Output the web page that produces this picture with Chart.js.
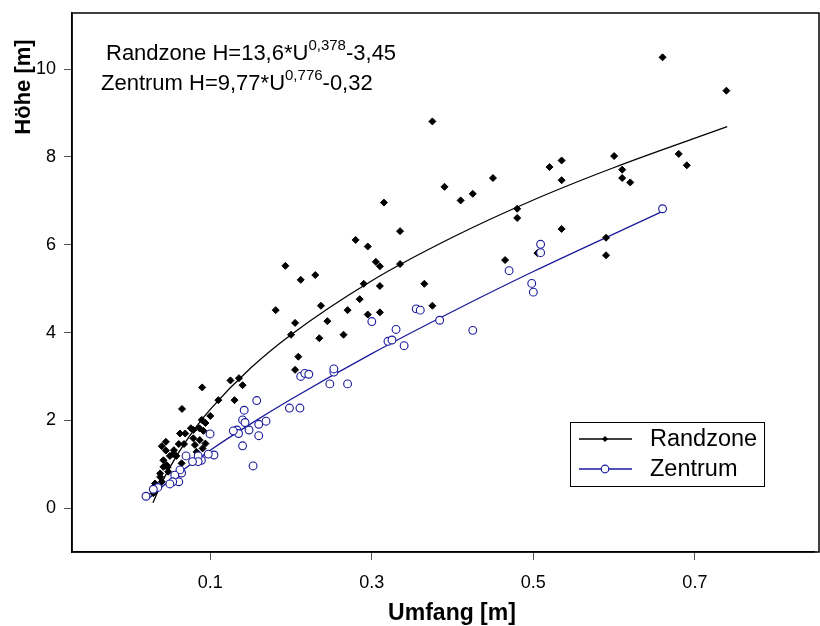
<!DOCTYPE html>
<html lang="de">
<head>
<meta charset="UTF-8" />
<title>Höhe über Umfang</title>
<script src="https://cdn.jsdelivr.net/npm/chart.js"></script>
<style>
  * { margin: 0; padding: 0; }
  html, body { background: #fff; overflow: hidden; }
  canvas { display: block; }
</style>
</head>
<body>
<canvas id="chart" width="820" height="626"></canvas>
<script>
// Randzone - Messpunkte (Umfang [m], Höhe [m])
const randU = [0.660, 0.739, 0.375, 0.390, 0.410, 0.425, 0.450, 0.480, 0.480, 0.520,
  0.535, 0.535, 0.600, 0.610, 0.610, 0.620, 0.680, 0.690, 0.535, 0.465,
  0.505, 0.590, 0.590, 0.375, 0.315, 0.335, 0.280, 0.295, 0.305, 0.310,
  0.335, 0.193, 0.212, 0.230, 0.290, 0.310, 0.365, 0.181, 0.237, 0.285,
  0.205, 0.245, 0.270, 0.295, 0.310, 0.200, 0.235, 0.265, 0.209, 0.205,
  0.090, 0.110, 0.125, 0.1355, 0.140, 0.130, 0.065, 0.100, 0.040, 0.045,
  0.050, 0.058, 0.061, 0.0675, 0.069, 0.076, 0.079, 0.081, 0.083, 0.0865,
  0.0895, 0.094, 0.0915, 0.094, 0.0905, 0.087, 0.0645, 0.042, 0.048, 0.038,
  0.040, 0.0315, 0.046, 0.054, 0.0295, 0.0625, 0.079, 0.045, 0.055, 0.042,
  0.047, 0.038, 0.0295];
const randH = [10.27, 9.51, 8.81, 7.32, 7.01, 7.16, 7.52, 6.82, 6.61, 7.77,
  7.92, 7.47, 8.02, 7.71, 7.52, 7.42, 8.07, 7.81, 6.36, 5.65,
  5.81, 6.16, 5.76, 4.61, 6.96, 6.31, 6.11, 5.96, 5.61, 5.51,
  5.56, 5.52, 5.20, 5.31, 5.11, 5.06, 5.11, 4.51, 4.61, 4.76,
  4.22, 4.26, 4.51, 4.41, 4.46, 3.95, 3.87, 3.95, 3.45, 3.15,
  2.75, 2.46, 2.91, 2.96, 2.80, 2.46, 2.26, 2.10, 1.41, 1.31,
  1.19, 1.19, 1.46, 1.46, 1.70, 1.82, 1.59, 1.44, 1.28, 1.82,
  2.01, 1.94, 1.76, 1.47, 1.36, 1.55, 1.02, 0.94, 0.83, 0.79,
  0.60, 0.56, 0.98, 1.23, 0.34, 1.70, 1.78, 1.51, 1.32, 1.09,
  0.93, 0.71, 0.37];

// Zentrum - Messpunkte
const zentU = [0.660, 0.509, 0.509, 0.470, 0.498, 0.500, 0.384, 0.425, 0.300, 0.355,
  0.360, 0.330, 0.320, 0.325, 0.340, 0.212, 0.217, 0.222, 0.248, 0.270,
  0.253, 0.253, 0.198, 0.211, 0.169, 0.1575, 0.142, 0.140, 0.143, 0.133,
  0.135, 0.148, 0.140, 0.153, 0.1285, 0.160, 0.160, 0.0997, 0.1046, 0.0975,
  0.089, 0.085, 0.085, 0.078, 0.070, 0.0645, 0.0625, 0.056, 0.061, 0.0535,
  0.050, 0.035, 0.0295, 0.0204];
const zentH = [6.82, 6.01, 5.82, 5.41, 5.12, 4.92, 4.28, 4.05, 4.25, 4.54,
  4.51, 4.07, 3.80, 3.83, 3.70, 3.00, 3.07, 3.05, 2.83, 2.83,
  3.10, 3.17, 2.28, 2.28, 1.98, 2.45, 2.23, 2.01, 1.95, 1.78,
  1.70, 1.78, 1.42, 0.96, 1.76, 1.91, 1.65, 1.69, 1.21, 1.23,
  1.09, 1.19, 1.06, 1.06, 1.19, 0.80, 0.87, 0.75, 0.60, 0.60,
  0.55, 0.47, 0.43, 0.27];

// Regressionskurven
const randFitU = [0.029, 0.04, 0.06, 0.08, 0.10, 0.15, 0.20, 0.30, 0.40, 0.50, 0.60, 0.74];
const randFitH = [0.12, 0.58, 1.24, 1.79, 2.25, 3.19, 3.95, 5.18, 6.17, 7.02, 7.76, 8.69];
const zentFitU = [0.022, 0.04, 0.06, 0.10, 0.15, 0.20, 0.30, 0.40, 0.50, 0.66];
const zentFitH = [0.19, 0.48, 0.78, 1.32, 1.92, 2.48, 3.52, 4.48, 5.39, 6.76];

const xTicks = [0.1, 0.3, 0.5, 0.7];
const yTicks = [0, 2, 4, 6, 8, 10];

const FONT = '"Liberation Sans", Arial, sans-serif';
const BLUE = '#1a1a9c';

const pts = (xs, ys) => xs.map((x, i) => ({ x: x, y: ys[i] }));

// Rahmen, Formeln, Legende und Achsentitel
const decor = {
  id: 'decor',
  afterDraw(chart) {
    const ctx = chart.ctx;
    const a = chart.chartArea;
    ctx.save();
    ctx.strokeStyle = '#000';
    ctx.lineWidth = 1.5;
    ctx.strokeRect(a.left, a.top, 819 - a.left, a.bottom - a.top);

    // Formeln
    function formula(x, y, parts) {
      let cx = x;
      parts.forEach(p => {
        ctx.font = (p.sup ? '15px ' : '22px ') + FONT;
        ctx.fillText(p.t, cx, p.sup ? y - 10 : y);
        cx += ctx.measureText(p.t).width;
      });
    }
    ctx.fillStyle = '#000';
    ctx.textBaseline = 'alphabetic';
    ctx.textAlign = 'left';
    formula(106, 60, [{ t: 'Randzone H=13,6*U' }, { t: '0,378', sup: true }, { t: '-3,45' }]);
    formula(101, 90, [{ t: 'Zentrum H=9,77*U' }, { t: '0,776', sup: true }, { t: '-0,32' }]);

    // Legende
    ctx.lineWidth = 1;
    ctx.strokeStyle = '#000';
    ctx.strokeRect(570.5, 422.5, 194, 64);
    ctx.lineWidth = 1.5;
    ctx.beginPath(); ctx.moveTo(579, 439); ctx.lineTo(632, 439); ctx.stroke();
    ctx.fillStyle = '#000';
    ctx.beginPath();
    ctx.moveTo(605 - 3, 439); ctx.lineTo(605, 436); ctx.lineTo(608, 439); ctx.lineTo(605, 442);
    ctx.closePath(); ctx.fill();
    ctx.strokeStyle = BLUE;
    ctx.beginPath(); ctx.moveTo(579, 469); ctx.lineTo(632, 469); ctx.stroke();
    ctx.fillStyle = '#fff';
    ctx.lineWidth = 1.2;
    ctx.beginPath(); ctx.arc(605, 469, 3.8, 0, Math.PI * 2); ctx.fill(); ctx.stroke();
    ctx.fillStyle = '#000';
    ctx.font = '23.5px ' + FONT;
    ctx.textBaseline = 'middle';
    ctx.fillText('Randzone', 650, 440);
    ctx.fillText('Zentrum', 650, 470);

    // Achsentitel
    ctx.textAlign = 'center';
    ctx.textBaseline = 'alphabetic';
    ctx.font = 'bold 23px ' + FONT;
    ctx.fillText('Umfang [m]', 452, 620);
    ctx.font = 'bold 22px ' + FONT;
    ctx.translate(30, 87);
    ctx.rotate(-Math.PI / 2);
    ctx.fillText('Höhe [m]', 0, 0);
    ctx.restore();
  }
};

new Chart(document.getElementById('chart'), {
  type: 'scatter',
  data: {
    datasets: [
      {
        label: 'Zentrum',
        data: pts(zentU, zentH),
        pointStyle: 'circle',
        pointRadius: 3.9,
        borderWidth: 1.1,
        borderColor: BLUE,
        backgroundColor: '#fff',
        order: 0
      },
      {
        label: 'Randzone',
        data: pts(randU, randH),
        pointStyle: 'rectRot',
        pointRadius: 3.5,
        borderWidth: 1,
        borderColor: '#000',
        backgroundColor: '#000',
        order: 1
      },
      {
        label: 'Zentrum Fit',
        data: pts(zentFitU, zentFitH),
        showLine: true,
        pointRadius: 0,
        borderColor: BLUE,
        borderWidth: 1.3,
        cubicInterpolationMode: 'monotone',
        order: 2
      },
      {
        label: 'Randzone Fit',
        data: pts(randFitU, randFitH),
        showLine: true,
        pointRadius: 0,
        borderColor: '#000',
        borderWidth: 1.3,
        cubicInterpolationMode: 'monotone',
        order: 3
      }
    ]
  },
  options: {
    responsive: false,
    animation: false,
    devicePixelRatio: 1,
    layout: { padding: { top: 13, right: 0, left: 0, bottom: 0 } },
    plugins: { legend: { display: false }, tooltip: { enabled: false } },
    scales: {
      x: {
        type: 'linear',
        min: -0.0712,
        max: 0.8486,
        afterBuildTicks: s => { s.ticks = xTicks.map(v => ({ value: v })); },
        afterFit: s => { s.height = 74; },
        grid: { drawOnChartArea: false, drawTicks: true, tickLength: 8, color: '#555', tickWidth: 1 },
        border: { display: true, color: '#000', width: 1.5 },
        ticks: { font: { family: FONT, size: 18 }, color: '#000', padding: 12, maxRotation: 0,
          callback: v => v.toFixed(1) }
      },
      y: {
        type: 'linear',
        min: -1.0,
        max: 11.28,
        afterBuildTicks: s => { s.ticks = yTicks.map(v => ({ value: v })); },
        afterFit: s => { s.width = 72; },
        grid: { drawOnChartArea: false, drawTicks: true, tickLength: 8, color: '#555', tickWidth: 1 },
        border: { display: true, color: '#000', width: 1.5 },
        ticks: { font: { family: FONT, size: 18, lineHeight: 0.4 }, color: '#000', padding: 8,
          callback: v => String(v) }
      }
    }
  },
  plugins: [decor]
});
</script>
</body>
</html>
